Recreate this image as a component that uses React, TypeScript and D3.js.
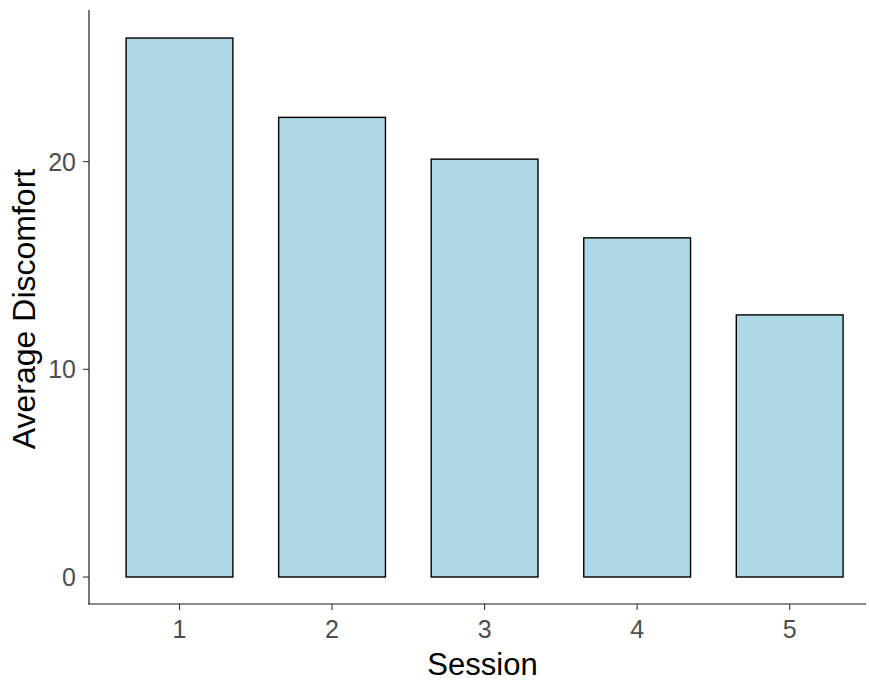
import React from "react";
import * as d3 from "d3";

const sessions = [1, 2, 3, 4, 5];
const discomfort = [25.95, 22.13, 20.12, 16.33, 12.62];
const yTicks = [0, 10, 20];

const W = 869;
const H = 682;

export default function App() {
  const x = d3.scaleLinear().domain([1, 5]).range([179.5, 789.7]);
  const step = x(2) - x(1);
  const barW = step * 0.7;
  const y = d3.scaleLinear().domain([-1.3, 27.3]).range([604, 10]);
  const font = "'Liberation Sans', Arial, sans-serif";
  return (
    <svg width={W} height={H} style={{ position: "absolute", left: 0, top: 0, background: "#fff" }} fontFamily={font}>
      {sessions.map((s, i) => (
        <rect
          key={s}
          x={x(s) - barW / 2}
          y={y(discomfort[i])}
          width={barW}
          height={y(0) - y(discomfort[i])}
          fill="#ADD8E6"
          stroke="#000"
          strokeWidth={1.4}
        />
      ))}
      <line x1={89} x2={89} y1={10} y2={604.5} stroke="#1a1a1a" strokeWidth={1.2} />
      <line x1={88.5} x2={866} y1={604} y2={604} stroke="#1a1a1a" strokeWidth={1.2} />
      {yTicks.map((t) => (
        <g key={t}>
          <line x1={83} x2={89} y1={y(t)} y2={y(t)} stroke="#333" strokeWidth={1.1} />
          <text x={76} y={y(t)} dy="0.36em" textAnchor="end" fontSize={25} fill="#4D4D4D">
            {t}
          </text>
        </g>
      ))}
      {sessions.map((s) => (
        <g key={s}>
          <line x1={x(s)} x2={x(s)} y1={604} y2={610} stroke="#333" strokeWidth={1.1} />
          <text x={x(s)} y={638} textAnchor="middle" fontSize={25} fill="#4D4D4D">
            {s}
          </text>
        </g>
      ))}
      <text x={482.5} y={675} textAnchor="middle" fontSize={31} fill="#000">
        Session
      </text>
      <text
        transform={`translate(35, 309) rotate(-90)`}
        textAnchor="middle"
        fontSize={32}
        fill="#000"
      >
        Average Discomfort
      </text>
    </svg>
  );
}
